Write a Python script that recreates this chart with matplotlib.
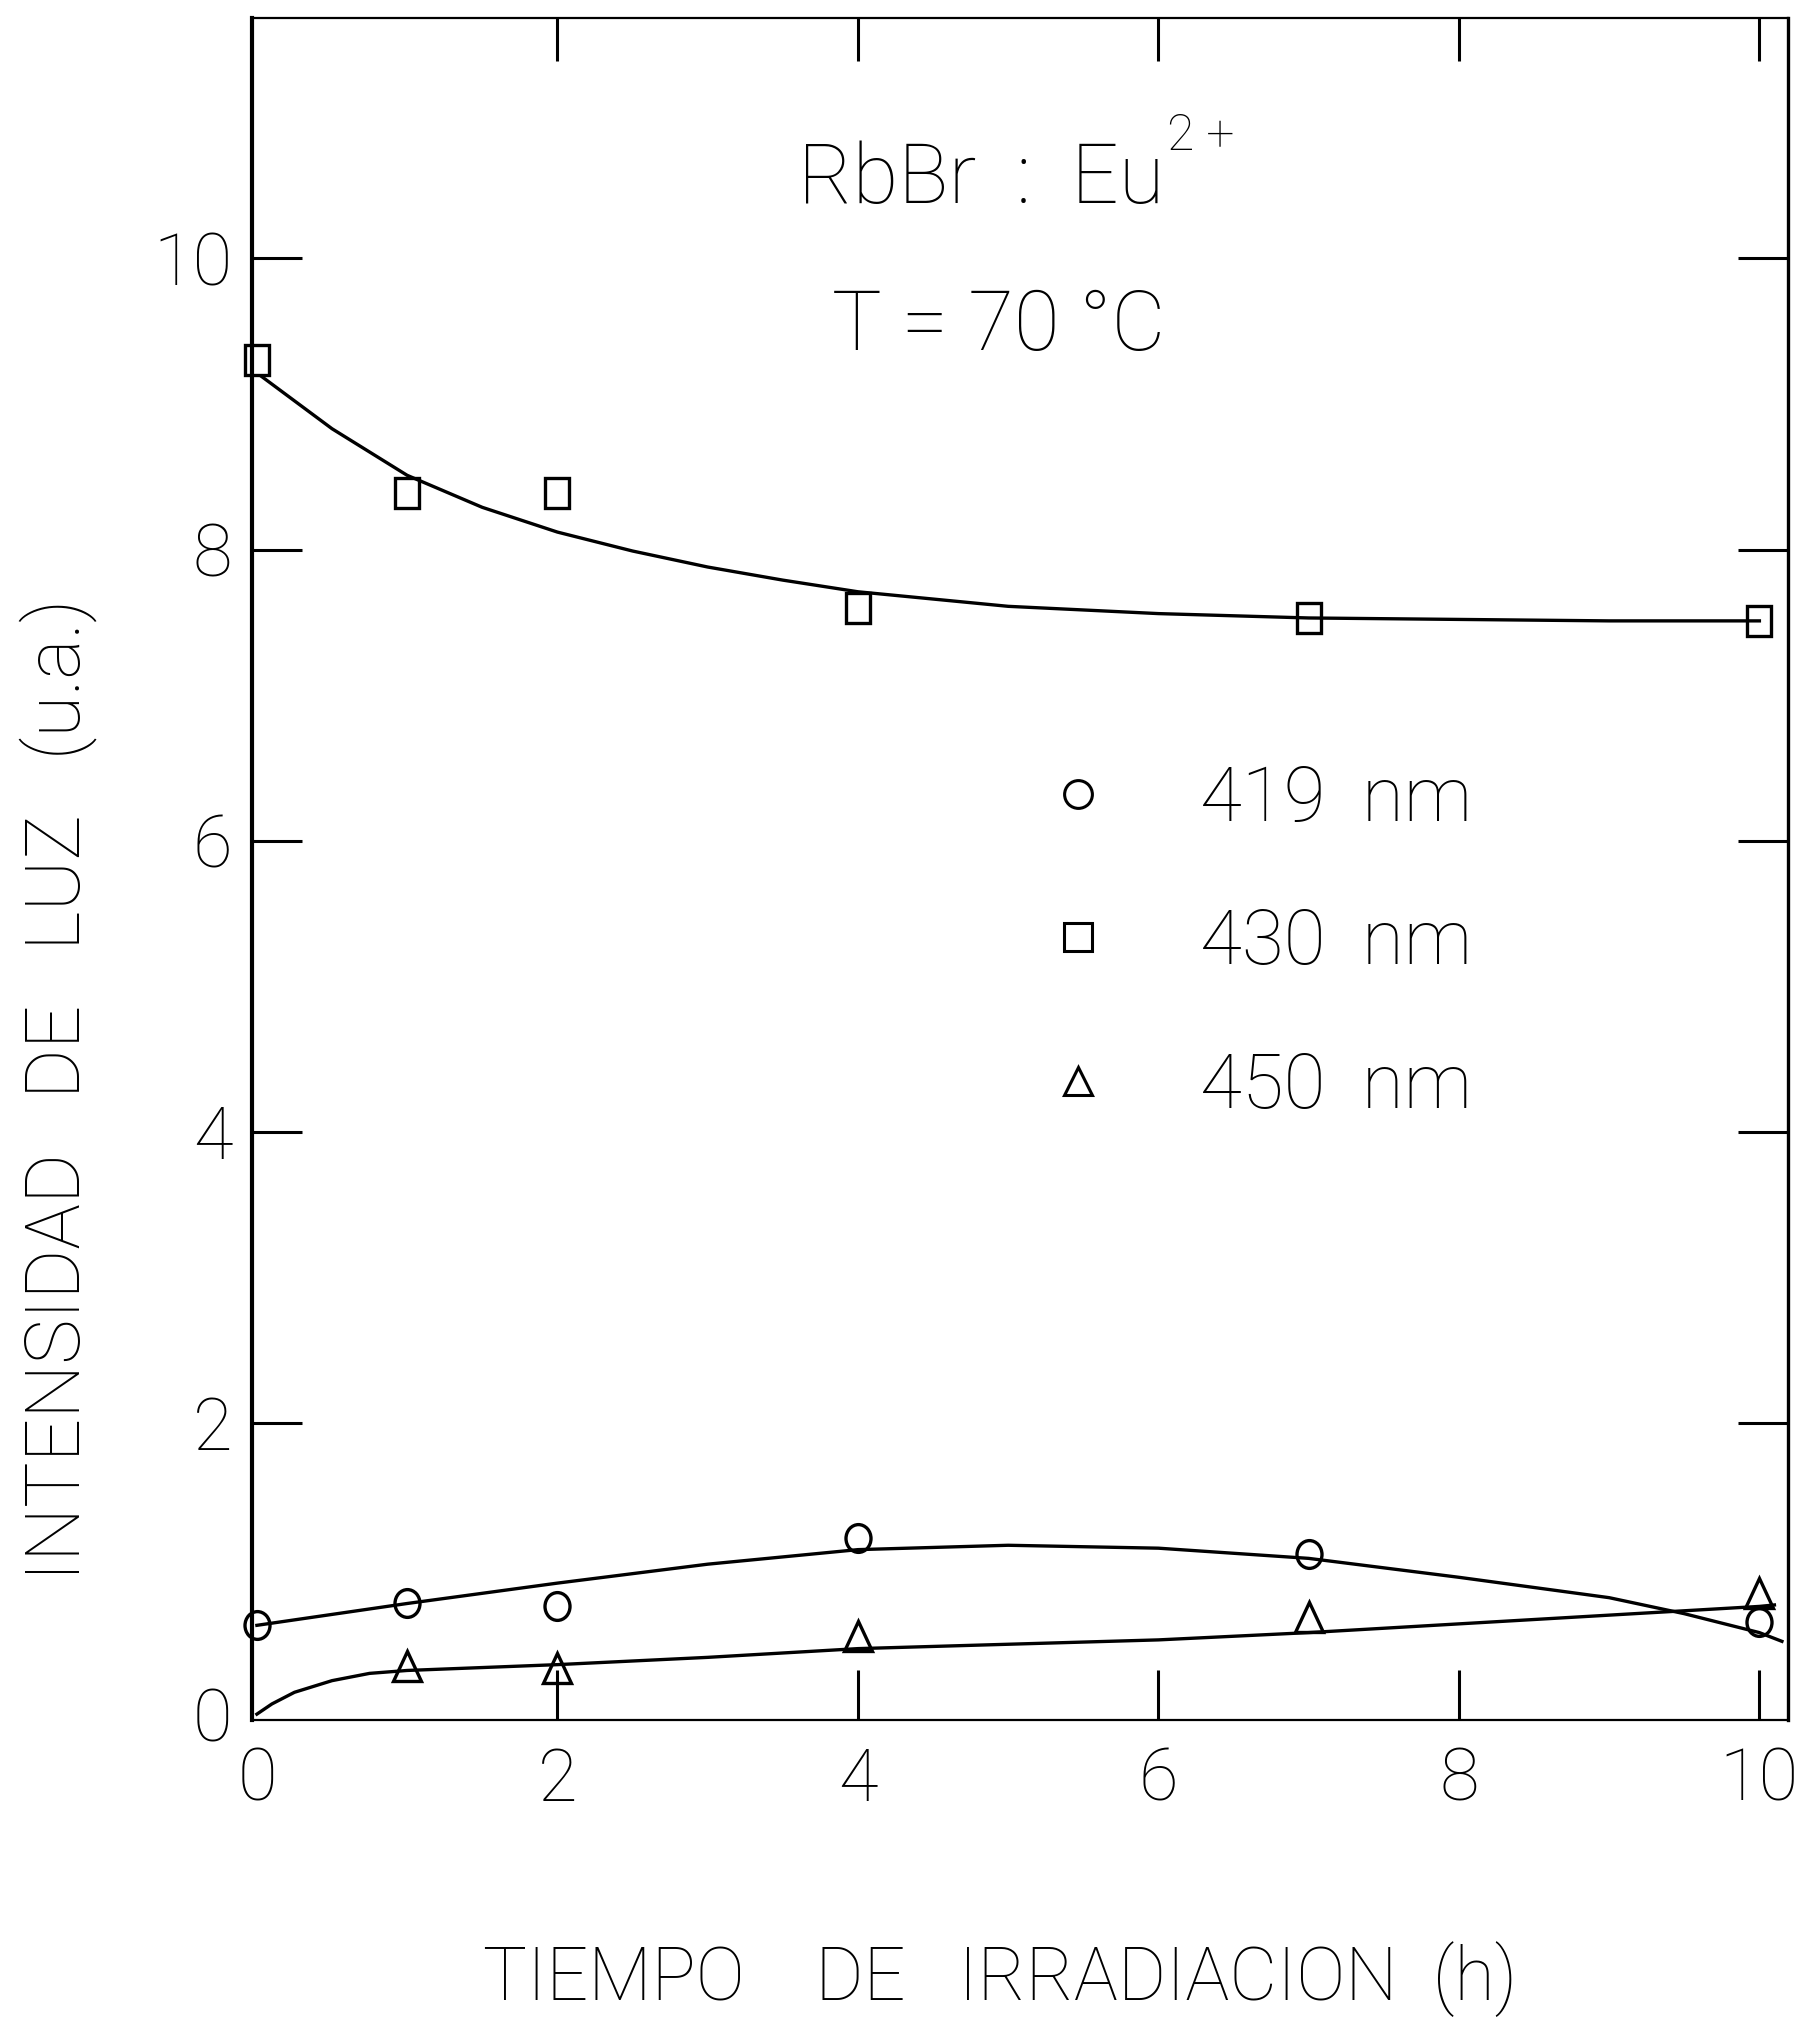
import matplotlib
matplotlib.use('Agg')
import matplotlib.pyplot as plt
from matplotlib import font_manager
from matplotlib.font_manager import FontProperties
from matplotlib.markers import MarkerStyle
from matplotlib.transforms import Affine2D
from matplotlib.lines import Line2D

# ---- pick a thin font ----
_entries = font_manager.fontManager.ttflist
_names = {f.name for f in _entries}


def _pick(cands, default):
    for c in cands:
        if c in _names:
            return c
    return default


def _wnum(w):
    if isinstance(w, int):
        return w
    return font_manager.weight_dict.get(str(w).lower(), 400)


def _light(fam):
    return 'light' if any(_wnum(f.weight) == 300 for f in _entries if f.name == fam) else 'normal'


FAM_R = _pick(['Roboto', 'Lato', 'Open Sans'], 'DejaVu Sans')
W_R = _light(FAM_R)
FONT_R = dict(family=[FAM_R, 'DejaVu Sans'], weight=W_R)
FS_TICK = 52
TICK_FP = FontProperties(family=[FAM_R, 'DejaVu Sans'], weight=W_R, size=FS_TICK)

plt.rcParams['font.family'] = [FAM_R, 'DejaVu Sans']
plt.rcParams['font.weight'] = W_R

# ---- measured points ----
time_h = [0, 1, 2, 4, 7, 10]
i419 = [0.61, 0.76, 0.74, 1.21, 1.10, 0.63]
i430 = [9.30, 8.39, 8.39, 7.60, 7.53, 7.51]
time_450 = [1, 2, 4, 7, 10]
i450 = [0.33, 0.32, 0.54, 0.67, 0.83]

# ---- hand-drawn fitted curves ----
fit430_x = [0.03, 0.5, 1, 1.5, 2, 2.5, 3, 3.5, 4, 5, 6, 7, 8, 9, 10]
fit430_y = [9.19, 8.83, 8.51, 8.29, 8.12, 7.99, 7.88, 7.79, 7.71, 7.61, 7.56, 7.53, 7.52, 7.51, 7.51]
fit419_x = [0, 1, 2, 3, 4, 5, 6, 7, 8, 9, 9.5, 10, 10.15]
fit419_y = [0.61, 0.76, 0.90, 1.03, 1.13, 1.16, 1.14, 1.07, 0.94, 0.80, 0.69, 0.56, 0.50]
fit450_x = [0, 0.1, 0.25, 0.5, 0.75, 1, 1.5, 2, 3, 4, 5, 6, 7, 8, 9, 9.5, 10, 10.1]
fit450_y = [0.0, 0.07, 0.15, 0.23, 0.28, 0.30, 0.32, 0.34, 0.39, 0.45, 0.48, 0.51, 0.56, 0.62, 0.68, 0.71, 0.74, 0.75]

labels = ['419  nm', '430  nm', '450  nm']
xticks = [0, 2, 4, 6, 8, 10]
yticks = [0, 2, 4, 6, 8, 10]

fig = plt.figure(figsize=(18.06, 20.23), dpi=100)
ax = fig.add_axes([0.1395, 0.1498, 0.8505, 0.8412])
ax.set_xlim(-0.033, 10.19)
ax.set_ylim(-0.04, 11.65)

m_circ = MarkerStyle('o', fillstyle='none', transform=Affine2D().scale(0.9, 1.0))
m_sq = MarkerStyle('s', fillstyle='none', transform=Affine2D().scale(0.8, 1.0))
m_tri = MarkerStyle('^', fillstyle='none', transform=Affine2D().scale(0.93, 1.0))

lw = 2.4
ax.plot(fit430_x, fit430_y, color='black', lw=lw)
ax.plot(fit419_x, fit419_y, color='black', lw=lw)
ax.plot(fit450_x, fit450_y, color='black', lw=lw)

mk = dict(ls='none', color='black', markeredgewidth=2.4,
          markerfacecolor='white', clip_on=False, zorder=3)
ax.plot(time_h, i419, marker=m_circ, markersize=20, **mk)
ax.plot(time_h, i430, marker=m_sq, markersize=22, **mk)
ax.plot(time_450, i450, marker=m_tri, markersize=22, **mk)

# ticks
ax.set_xticks(xticks)
ax.set_yticks(yticks)
ax.tick_params(axis='both', which='major', direction='in', length=36, width=2.2,
               labelsize=FS_TICK, top=True, right=True)
ax.tick_params(axis='x', pad=19)
ax.tick_params(axis='y', pad=14)
for t in ax.xaxis.get_major_ticks():
    t.tick2line.set_markersize(31)
for t in ax.xaxis.get_major_ticks() + ax.yaxis.get_major_ticks():
    t.label1.set_fontproperties(TICK_FP)
ax.xaxis.get_major_ticks()[0].tick1line.set_visible(False)
ax.xaxis.get_major_ticks()[0].tick2line.set_visible(False)
ax.yaxis.get_major_ticks()[0].tick1line.set_visible(False)
ax.yaxis.get_major_ticks()[0].tick2line.set_visible(False)

ax.spines['left'].set_linewidth(3.0)
ax.spines['right'].set_linewidth(2.4)
for s in ['top', 'bottom']:
    ax.spines[s].set_linewidth(1.6)

ax.set_xlabel('TIEMPO    DE   IRRADIACION  (h)', fontsize=53, va='center', **FONT_R)
ax.xaxis.set_label_coords(0.487, -0.152)
ax.set_ylabel('INTENSIDAD   DE   LUZ   (u.a.)', fontsize=55, va='center', **FONT_R)
ax.yaxis.set_label_coords(-0.126, 0.37)

t1 = ax.text(3.6, 10.38, 'RbBr  :  Eu', fontsize=60, ha='left', va='baseline', **FONT_R)
ax.annotate('2 +', xy=(1, 1), xycoords=t1, xytext=(2, 20), textcoords='offset points',
            ha='left', va='top', fontsize=36, **FONT_R)
ax.text(3.83, 9.37, 'T = 70 °C', fontsize=60, ha='left', va='baseline', **FONT_R)

handles = [Line2D([], [], ls='none', marker=m, color='black', markersize=20,
                  markeredgewidth=2.2, markerfacecolor='white')
           for m in (MarkerStyle('o', fillstyle='none'), MarkerStyle('s', fillstyle='none'),
                     MarkerStyle('^', fillstyle='none'))]
leg = ax.legend(handles, labels, loc='upper left', bbox_to_anchor=(0.513, 0.562),
                frameon=False, handlelength=1.0, handletextpad=1.1,
                labelspacing=0.93, borderpad=0, borderaxespad=0,
                prop=FontProperties(family=[FAM_R, 'DejaVu Sans'], weight=W_R, size=55))

fig.savefig('out.png', dpi=100)
